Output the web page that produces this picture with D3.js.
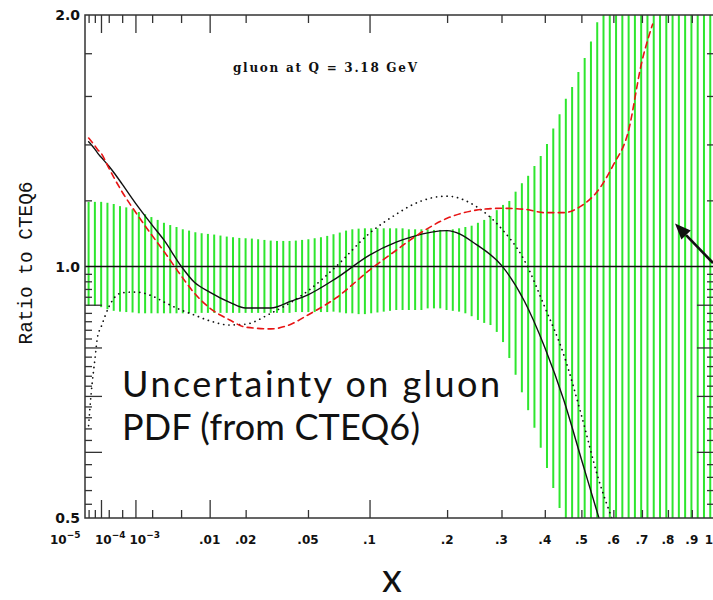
<!DOCTYPE html>
<html>
<head>
<meta charset="utf-8">
<script src="https://cdn.jsdelivr.net/npm/d3@7"></script>
<style>
  body { margin: 0; background: #fff; }
  svg { display: block; }
</style>
</head>
<body>
<svg id="chart" width="713" height="600"></svg>
<script>
// ---- uncertainty band: x sampling points and lower / upper ratio ----
const bandX = [
  2.00e-5, 5.03e-5, 1.017e-4, 1.798e-4, 2.903e-4, 4.386e-4, 6.305e-4, 8.715e-4, 1.167e-3, 1.523e-3,
  1.945e-3, 2.438e-3, 3.008e-3, 3.661e-3, 4.402e-3, 5.237e-3, 6.172e-3, 7.211e-3, 8.361e-3, 9.627e-3,
  0.011015, 0.012531, 0.014179, 0.015966, 0.017897, 0.019977, 0.022214, 0.024612, 0.027173, 0.029910,
  0.032823, 0.035921, 0.039207, 0.042685, 0.046365, 0.050252, 0.054350, 0.058665, 0.063199, 0.067963,
  0.072962, 0.078199, 0.083683, 0.089411, 0.095401, 0.10165, 0.10817, 0.11496, 0.12202, 0.12938,
  0.13702, 0.14496, 0.15320, 0.16174, 0.17059, 0.17977, 0.18927, 0.19909, 0.20924, 0.21975,
  0.23059, 0.24179, 0.25335, 0.26526, 0.27754, 0.29020, 0.30323, 0.31665, 0.33045, 0.34466,
  0.35927, 0.37429, 0.38972, 0.40555, 0.42182, 0.43852, 0.45566, 0.47325, 0.49125, 0.50973,
  0.52865, 0.54804, 0.56791, 0.58823, 0.60905, 0.63035, 0.65215, 0.67443, 0.69721, 0.72050,
  0.74431, 0.76864, 0.79350, 0.81886, 0.84480, 0.87125, 0.89826, 0.92584, 0.95393, 0.98261
];
const bandLow = [
  0.897, 0.897, 0.894, 0.889, 0.885, 0.883, 0.882, 0.881, 0.879, 0.879,
  0.879, 0.879, 0.879, 0.879, 0.879, 0.879, 0.879, 0.879, 0.880, 0.880,
  0.880, 0.880, 0.880, 0.880, 0.880, 0.880, 0.880, 0.880, 0.880, 0.880,
  0.880, 0.880, 0.880, 0.882, 0.882, 0.882, 0.882, 0.882, 0.882, 0.883,
  0.881, 0.879, 0.879, 0.877, 0.877, 0.879, 0.881, 0.883, 0.885, 0.887,
  0.887, 0.887, 0.887, 0.887, 0.891, 0.891, 0.891, 0.887, 0.885, 0.883,
  0.879, 0.872, 0.863, 0.856, 0.851, 0.835, 0.812, 0.777, 0.742, 0.707,
  0.673, 0.641, 0.607, 0.574, 0.543, 0.514, 0.490, 0.470, 0.450, 0.430,
  0.410, 0.390, 0.370, 0.350, 0.330, 0.310, 0.290, 0.270, 0.250, 0.230,
  0.210, 0.190, 0.170, 0.150, 0.130, 0.110, 0.095, 0.080, 0.065, 0.050
];
const bandHigh = [
  1.195, 1.195, 1.195, 1.192, 1.188, 1.181, 1.177, 1.171, 1.162, 1.155,
  1.146, 1.137, 1.128, 1.121, 1.115, 1.108, 1.104, 1.099, 1.096, 1.094,
  1.092, 1.089, 1.086, 1.084, 1.082, 1.081, 1.080, 1.078, 1.076, 1.074,
  1.073, 1.073, 1.073, 1.074, 1.076, 1.078, 1.081, 1.084, 1.088, 1.093,
  1.098, 1.104, 1.108, 1.110, 1.111, 1.111, 1.111, 1.111, 1.111, 1.111,
  1.111, 1.108, 1.108, 1.108, 1.108, 1.106, 1.106, 1.106, 1.108, 1.111,
  1.115, 1.119, 1.128, 1.137, 1.149, 1.168, 1.185, 1.198, 1.229, 1.258,
  1.284, 1.319, 1.356, 1.402, 1.463, 1.521, 1.588, 1.640, 1.709, 1.777,
  1.859, 1.961, 2.050, 2.150, 2.250, 2.350, 2.450, 2.550, 2.650, 2.750,
  2.850, 2.950, 3.050, 3.150, 3.250, 3.350, 3.450, 3.550, 3.650, 3.750
];

// ---- alternative fits, ratio to CTEQ6 ----
const curveX = [
  2e-5, 3e-5, 5e-5, 7e-5, 1e-4, 2e-4, 3e-4, 5e-4, 1e-3, 2e-3,
  3e-3, 5e-3, 7e-3, 0.01, 0.015, 0.02, 0.03, 0.04, 0.05, 0.07,
  0.1, 0.13, 0.15, 0.2, 0.25, 0.3, 0.35, 0.4, 0.45, 0.5,
  0.55, 0.6, 0.65, 0.7, 0.74
];
const fitSolid = [
  1.410, 1.400, 1.382, 1.367, 1.352, 1.319, 1.294, 1.255, 1.191, 1.121,
  1.076, 1.001, 0.958, 0.932, 0.906, 0.892, 0.892, 0.909, 0.925, 0.968,
  1.032, 1.070, 1.086, 1.104, 1.063, 1.003, 0.910, 0.800, 0.692, 0.588,
  0.505, 0.440, null, null, null
];
const fitDotted = [
  0.645, 0.704, 0.773, 0.825, 0.846, 0.894, 0.917, 0.930, 0.932, 0.922,
  0.907, 0.887, 0.875, 0.861, 0.851, 0.853, 0.879, 0.906, 0.935, 1.000,
  1.096, 1.156, 1.186, 1.214, 1.180, 1.110, 1.018, 0.894, 0.784, 0.664,
  0.560, 0.494, null, null, null
];
const fitDashed = [
  1.425, 1.413, 1.395, 1.380, 1.367, 1.312, 1.276, 1.228, 1.162, 1.089,
  1.043, 0.975, 0.930, 0.892, 0.863, 0.846, 0.842, 0.853, 0.875, 0.917,
  0.990, 1.047, 1.081, 1.142, 1.168, 1.174, 1.171, 1.160, 1.160, 1.182,
  1.232, 1.323, 1.446, 1.760, 1.950
];

// ---- axis ticks and labels ----
const xTicksLong = [1e-4, 1e-3, 1e-2, 0.1];
const xTicksShort = [2e-5, 5e-5, 2e-4, 5e-4, 2e-3, 5e-3, 0.02, 0.05, 0.2, 0.3, 0.4, 0.5, 0.6, 0.7, 0.8, 0.9];
const xLabelValues = [1e-5, 1e-4, 1e-3, 0.01, 0.02, 0.05, 0.1, 0.2, 0.3, 0.4, 0.5, 0.6, 0.7, 0.8, 0.9, 1];
const xLabelTexts = ["10^-5", "10^-4", "10^-3", ".01", ".02", ".05", ".1", ".2", ".3", ".4", ".5", ".6", ".7", ".8", ".9", "1"];
const yTicksLong = [0.6, 0.7, 0.8, 0.9];
const yTicksShort = [0.52, 0.54, 0.56, 0.58, 0.62, 0.64, 0.66, 0.68, 0.72, 0.74, 0.76, 0.78,
                     0.82, 0.84, 0.86, 0.88, 0.92, 0.94, 0.96, 0.98, 1.2, 1.4, 1.6, 1.8];
const yLabelValues = [0.5, 1.0, 2.0];
const yLabelTexts = ["0.5", "1.0", "2.0"];

// ---- layout ----
const svg = d3.select("#chart");
const plot = { left: 85, right: 714, top: 15, bottom: 518 };
const frameColor = "#333";
const bandColor = "#2ee62e";

const x = d3.scalePow().exponent(1 / 3).domain([1e-5, 1]).range([plot.left, plot.right]);
const y = d3.scaleLog().domain([0.5, 2]).range([plot.bottom, plot.top]);

svg.append("defs").append("clipPath").attr("id", "plotClip")
  .append("rect")
  .attr("x", plot.left).attr("y", plot.top)
  .attr("width", plot.right - plot.left).attr("height", plot.bottom - plot.top);

const inner = svg.append("g").attr("clip-path", "url(#plotClip)");

// uncertainty band drawn as vertical bars
inner.append("g").selectAll("line")
  .data(bandX.map((v, i) => ({ x: v, lo: bandLow[i], hi: bandHigh[i] })))
  .join("line")
  .attr("x1", d => x(d.x)).attr("x2", d => x(d.x))
  .attr("y1", d => y(Math.max(d.lo, 0.45)))
  .attr("y2", d => y(Math.min(d.hi, 2.2)))
  .attr("stroke", bandColor)
  .attr("stroke-width", 2);

// reference line at ratio 1
inner.append("line")
  .attr("x1", plot.left).attr("x2", plot.right)
  .attr("y1", y(1)).attr("y2", y(1))
  .attr("stroke", "#111").attr("stroke-width", 1.6);

const line = d3.line()
  .defined(d => d.v != null)
  .x(d => x(d.x))
  .y(d => y(d.v))
  .curve(d3.curveMonotoneX);

function drawFit(values, color, width, dash) {
  inner.append("path")
    .datum(curveX.map((v, i) => ({ x: v, v: values[i] })))
    .attr("d", line)
    .attr("fill", "none")
    .attr("stroke", color)
    .attr("stroke-width", width)
    .attr("stroke-dasharray", dash)
    .attr("stroke-linecap", "round");
}
drawFit(fitDotted, "#111", 1.7, "0.1 5.2");
drawFit(fitSolid, "#111", 1.4, null);
drawFit(fitDashed, "#e81414", 1.6, "6 4.5");

// frame
svg.append("rect")
  .attr("x", plot.left).attr("y", plot.top)
  .attr("width", plot.right - plot.left).attr("height", plot.bottom - plot.top)
  .attr("fill", "none").attr("stroke", frameColor).attr("stroke-width", 1.5);

// tick marks on all four sides, pointing inwards
function tickSet(axisFn, values, size, tx, ty) {
  const scale = (axisFn === d3.axisBottom || axisFn === d3.axisTop) ? x : y;
  svg.append("g")
    .attr("transform", `translate(${tx},${ty})`)
    .call(axisFn(scale).tickValues(values).tickSizeInner(-size).tickSizeOuter(0).tickFormat(""))
    .call(g => g.select(".domain").remove())
    .call(g => g.selectAll("text").remove())
    .call(g => g.selectAll("line").attr("stroke", frameColor).attr("stroke-width", 1.3));
}
tickSet(d3.axisBottom, xTicksShort, 8, 0, plot.bottom);
tickSet(d3.axisBottom, xTicksLong, 18, 0, plot.bottom);
tickSet(d3.axisTop, xTicksShort, 8, 0, plot.top);
tickSet(d3.axisTop, xTicksLong, 18, 0, plot.top);
tickSet(d3.axisLeft, yTicksShort, 7, plot.left, 0);
tickSet(d3.axisLeft, yTicksLong, 17, plot.left, 0);
tickSet(d3.axisRight, yTicksShort, 7, plot.right, 0);
tickSet(d3.axisRight, yTicksLong, 17, plot.right, 0);

// x tick labels
const tickFont = "'DejaVu Sans', sans-serif";
const xl = svg.append("g")
  .attr("font-family", tickFont).attr("font-weight", "bold")
  .attr("font-size", 12).attr("fill", "#111");
xLabelValues.forEach((v, i) => {
  const label = xLabelTexts[i];
  const px = x(v);
  if (label.includes("^")) {
    const [base, expo] = label.split("^");
    const t = xl.append("text")
      .attr("x", i === 0 ? px - 35 : px - 6)
      .attr("y", 544)
      .attr("text-anchor", "start");
    t.append("tspan").text(base);
    t.append("tspan").attr("dy", -6).attr("font-size", 9).text("\u2212" + expo.replace("-", ""));
  } else {
    xl.append("text")
      .attr("x", i === xLabelValues.length - 1 ? px - 1 : px)
      .attr("y", 544)
      .attr("text-anchor", i === xLabelValues.length - 1 ? "end" : "middle")
      .text(label);
  }
});

// y tick labels
svg.append("g")
  .attr("font-family", tickFont).attr("font-weight", "bold")
  .attr("font-size", 14).attr("fill", "#111")
  .selectAll("text")
  .data(yLabelValues)
  .join("text")
  .attr("x", 80)
  .attr("y", d => y(d) + 5)
  .attr("text-anchor", "end")
  .text((d, i) => yLabelTexts[i]);

// y axis title
svg.append("text")
  .attr("transform", "translate(32,263) rotate(-90)")
  .attr("text-anchor", "middle")
  .attr("font-family", "'Liberation Mono', monospace")
  .attr("font-size", 20)
  .attr("textLength", 163)
  .attr("lengthAdjust", "spacingAndGlyphs")
  .attr("fill", "#111")
  .text("Ratio to CTEQ6");

// plot heading
svg.append("text")
  .attr("x", 233).attr("y", 72)
  .attr("font-family", "'DejaVu Serif', serif")
  .attr("font-weight", "bold")
  .attr("font-size", 12)
  .attr("textLength", 184)
  .attr("fill", "#111")
  .text("gluon at Q = 3.18 GeV");

// annotation text
const note = svg.append("g")
  .attr("font-family", "Lato, 'Open Sans', sans-serif")
  .attr("font-size", 36)
  .attr("fill", "#111");
note.append("text").attr("x", 122).attr("y", 397).attr("textLength", 378).text("Uncertainty on gluon");
note.append("text").attr("x", 122).attr("y", 440).attr("textLength", 298).text("PDF (from CTEQ6)");

// x axis title
svg.append("text")
  .attr("x", 392).attr("y", 592)
  .attr("text-anchor", "middle")
  .attr("font-family", "Lato, 'Open Sans', sans-serif")
  .attr("font-size", 40)
  .attr("fill", "#111")
  .text("x");

// arrow pointing into the band
const tail = [713, 263], tip = [675, 223.5];
const dx = tip[0] - tail[0], dy = tip[1] - tail[1];
const len = Math.hypot(dx, dy), ux = dx / len, uy = dy / len;
const headLen = 16, headHalf = 6.5;
const base = [tip[0] - ux * headLen, tip[1] - uy * headLen];
svg.append("line")
  .attr("x1", tail[0]).attr("y1", tail[1])
  .attr("x2", base[0]).attr("y2", base[1])
  .attr("stroke", "#111").attr("stroke-width", 2.6);
svg.append("polygon")
  .attr("points", [
    tip,
    [base[0] - uy * headHalf, base[1] + ux * headHalf],
    [base[0] + uy * headHalf, base[1] - ux * headHalf]
  ].map(p => p.join(",")).join(" "))
  .attr("fill", "#111");
</script>
</body>
</html>
